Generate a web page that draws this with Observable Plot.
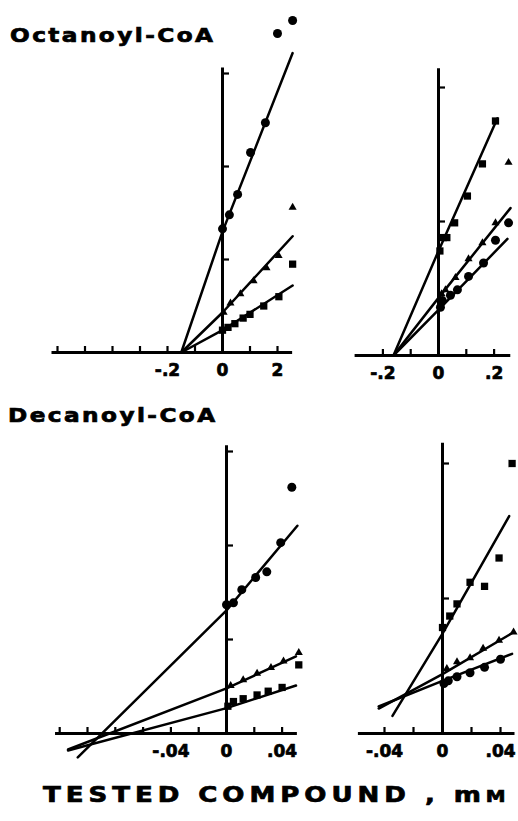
<!DOCTYPE html>
<html><head><meta charset="utf-8">
<script src="https://cdn.jsdelivr.net/npm/d3@7"></script>
<script src="https://cdn.jsdelivr.net/npm/@observablehq/plot@0.6"></script>
<style>
body{margin:0;background:#fff;}
#root{position:relative;width:518px;height:821px;overflow:hidden;background:#fff;font-family:"DejaVu Sans",sans-serif;color:#000;}
.panel{position:absolute;}
.title{position:absolute;font-weight:bold;white-space:nowrap;transform-origin:left top;line-height:1;color:#000;-webkit-text-stroke:0.7px #000;}
</style></head><body><div id="root"></div>
<script>
// ---------- DATA ----------
// Octanoyl-CoA, left panel
const octL_xTicks = [-6,-5,-4,-3,-2,-1,1,2];
const octL_yTicks = [1,2,3];
const octL_labelAt = [-2,0,2];
const octL_labels = ["-.2","0","2"];
const octL_circles = [[0,1.33],[0.25,1.48],[0.55,1.70],[1.02,2.15],[1.56,2.47],[2.0,3.43],[2.55,3.57]];
const octL_circleLine = [[-1.5,0],[0,1.3],[2.55,3.22]];
const octL_triangles = [[0.04,0.43],[0.29,0.53],[0.65,0.63],[1.13,0.77],[1.6,0.91],[2.04,1.04],[2.55,1.56]];
const octL_triangleLine = [[-1.5,0],[0,0.43],[2.55,1.25]];
const octL_squares = [[0,0.24],[0.2,0.27],[0.45,0.31],[0.75,0.37],[1.0,0.41],[1.5,0.5],[2.05,0.6],[2.55,0.95]];
const octL_squareLine = [[-1.5,0],[0,0.24],[2.55,0.72]];

// Octanoyl-CoA, right panel
const octR_xTicks = [-0.2,-0.1,0.1,0.2];
const octR_yTicks = [1,2];
const octR_labelAt = [-0.2,0,0.2];
const octR_labels = ["-.2","0",".2"];
const octR_squares = [[0.005,0.78],[0.018,0.88],[0.03,0.88],[0.058,0.99],[0.104,1.19],[0.158,1.43],[0.205,1.75]];
const octR_squareLine = [[-0.162,0],[0,0.78],[0.212,1.77]];
const octR_triangles = [[0.011,0.46],[0.025,0.49],[0.061,0.58],[0.108,0.72],[0.158,0.84],[0.205,0.99],[0.252,1.44]];
const octR_triangleLine = [[-0.162,0],[0,0.43],[0.259,1.10]];
const octR_circles = [[0.007,0.36],[0.014,0.41],[0.043,0.45],[0.068,0.49],[0.108,0.59],[0.162,0.69],[0.205,0.86],[0.252,0.99]];
const octR_circleLine = [[-0.162,0],[0,0.34],[0.248,0.87]];

// Decanoyl-CoA, left panel
const decL_xTicks = [-0.12,-0.10,-0.08,-0.06,-0.04,-0.02,0.02,0.04];
const decL_yTicks = [1,2,3];
const decL_labelAt = [-0.04,0,0.04];
const decL_labels = ["-.04","0",".04"];
const decL_circles = [[0,1.37],[0.005,1.39],[0.011,1.53],[0.021,1.66],[0.029,1.72],[0.039,2.03],[0.047,2.62]];
const decL_circleLine = [[-0.107,-0.255],[0,1.31],[0.051,2.21]];
const decL_triangles = [[0.003,0.51],[0.012,0.57],[0.022,0.64],[0.032,0.70],[0.041,0.77],[0.052,0.86]];
const decL_triangleLine = [[-0.114,-0.17],[0,0.48],[0.05,0.82]];
const decL_squares = [[0.001,0.29],[0.005,0.34],[0.012,0.37],[0.022,0.41],[0.03,0.45],[0.04,0.49],[0.052,0.73]];
const decL_squareLine = [[-0.114,-0.18],[0,0.27],[0.05,0.51]];

// Decanoyl-CoA, right panel
const decR_xTicks = [-0.04,-0.02,0.02,0.04];
const decR_yTicks = [1,2];
const decR_labelAt = [-0.04,0,0.04];
const decR_labels = ["-.04","0",".04"];
const decR_squares = [[0,0.785],[0.005,0.87],[0.010,0.96],[0.019,1.12],[0.029,1.09],[0.039,1.30],[0.048,2.0]];
const decR_squareLine = [[-0.0345,0.13],[0,0.74],[0.046,1.61]];
const decR_triangles = [[0.003,0.48],[0.010,0.53],[0.019,0.56],[0.028,0.63],[0.039,0.69],[0.049,0.75]];
const decR_triangleLine = [[-0.044,0.185],[0,0.44],[0.049,0.75]];
const decR_circles = [[0.001,0.37],[0.004,0.39],[0.010,0.42],[0.019,0.45],[0.029,0.49],[0.040,0.55]];
const decR_circleLine = [[-0.044,0.2],[0,0.39],[0.048,0.59]];

// ---------- LAYOUT ----------
const root = document.getElementById("root");
const SYM = {circle: {symbol: "circle", r: 4.5}, triangle: {symbol: "triangle", r: 3.0}, square: {symbol: "square", r: 4.1}};

function panel(cfg) {
  const {box, origin, k, xAxis, yTop, xTicks, yTicks, labelAt, labels, series} = cfg;
  const xDomain = [(box.left - origin[0]) / k[0], (box.left + box.width - origin[0]) / k[0]];
  const yDomain = [(origin[1] - (box.top + box.height)) / k[1], (origin[1] - box.top) / k[1]];
  const tickUp = 6 / k[1];
  const tickRight = 7 / k[0];
  const marks = [
    Plot.ruleY([0], {x1: xAxis[0], x2: xAxis[1], strokeWidth: 3}),
    Plot.ruleX([0], {y1: 0, y2: yTop, strokeWidth: 3}),
    Plot.ruleX(xTicks, {x: d => d, y1: 0, y2: tickUp, strokeWidth: 2.2}),
    Plot.ruleY(yTicks, {y: d => d, x1: 0, x2: tickRight, strokeWidth: 2.2}),
    Plot.text(labelAt, {x: d => d, y: 0, text: (d, i) => labels[i], dy: 18, fontSize: 17, fontWeight: "bold", fill: "#000", stroke: "#000", strokeWidth: 0.7})
  ];
  for (const s of series) {
    marks.push(Plot.line(s.line, {x: d => d[0], y: d => d[1], stroke: "#000", strokeWidth: 2.5}));
    marks.push(Plot.dot(s.pts, {x: d => d[0], y: d => d[1], symbol: SYM[s.kind].symbol, r: SYM[s.kind].r, fill: "#000", stroke: "none"}));
  }
  const svg = Plot.plot({
    width: box.width, height: box.height, margin: 0,
    x: {domain: xDomain, axis: null},
    y: {domain: yDomain, axis: null},
    style: {background: "transparent", maxWidth: "none", overflow: "visible", fontFamily: "DejaVu Sans", color: "#000"},
    marks
  });
  const div = document.createElement("div");
  div.className = "panel";
  div.style.left = box.left + "px";
  div.style.top = box.top + "px";
  div.appendChild(svg);
  root.appendChild(div);
}

panel({
  box: {left: 30, top: 0, width: 285, height: 390}, origin: [222, 352], k: [27.5, 93],
  xAxis: [-6.2, 2.55], yTop: 3.06, xTicks: octL_xTicks, yTicks: octL_yTicks, labelAt: octL_labelAt, labels: octL_labels,
  series: [
    {kind: "circle", pts: octL_circles, line: octL_circleLine},
    {kind: "triangle", pts: octL_triangles, line: octL_triangleLine},
    {kind: "square", pts: octL_squares, line: octL_squareLine}
  ]
});
panel({
  box: {left: 340, top: 0, width: 178, height: 390}, origin: [438, 355], k: [278, 134],
  xAxis: [-0.3, 0.26], yTop: 2.14, xTicks: octR_xTicks, yTicks: octR_yTicks, labelAt: octR_labelAt, labels: octR_labels,
  series: [
    {kind: "square", pts: octR_squares, line: octR_squareLine},
    {kind: "triangle", pts: octR_triangles, line: octR_triangleLine},
    {kind: "circle", pts: octR_circles, line: octR_circleLine}
  ]
});
panel({
  box: {left: 30, top: 430, width: 285, height: 345}, origin: [226, 733], k: [1390, 94],
  xAxis: [-0.123, 0.051], yTop: 3.06, xTicks: decL_xTicks, yTicks: decL_yTicks, labelAt: decL_labelAt, labels: decL_labels,
  series: [
    {kind: "circle", pts: decL_circles, line: decL_circleLine},
    {kind: "triangle", pts: decL_triangles, line: decL_triangleLine},
    {kind: "square", pts: decL_squares, line: decL_squareLine}
  ]
});
panel({
  box: {left: 340, top: 430, width: 178, height: 345}, origin: [442, 733], k: [1450, 135],
  xAxis: [-0.058, 0.05], yTop: 2.15, xTicks: decR_xTicks, yTicks: decR_yTicks, labelAt: decR_labelAt, labels: decR_labels,
  series: [
    {kind: "square", pts: decR_squares, line: decR_squareLine},
    {kind: "triangle", pts: decR_triangles, line: decR_triangleLine},
    {kind: "circle", pts: decR_circles, line: decR_circleLine}
  ]
});

function title(text, left, top, size, spacing, sx) {
  const d = document.createElement("div");
  d.className = "title";
  d.style.left = left + "px";
  d.style.top = top + "px";
  d.style.fontSize = size + "px";
  d.style.letterSpacing = spacing + "px";
  d.style.transform = "scaleX(" + sx + ")";
  d.innerHTML = text;
  root.appendChild(d);
  return d;
}
title("Octanoyl-CoA", 10, 26, 19, 2, 1.22);
title("Decanoyl-CoA", 8, 406, 19, 2, 1.22);
title('TESTED COMPOUND , m<span style="font-size:16px">M</span>', 43, 785, 21, 4, 1.24);
</script>
</body></html>
